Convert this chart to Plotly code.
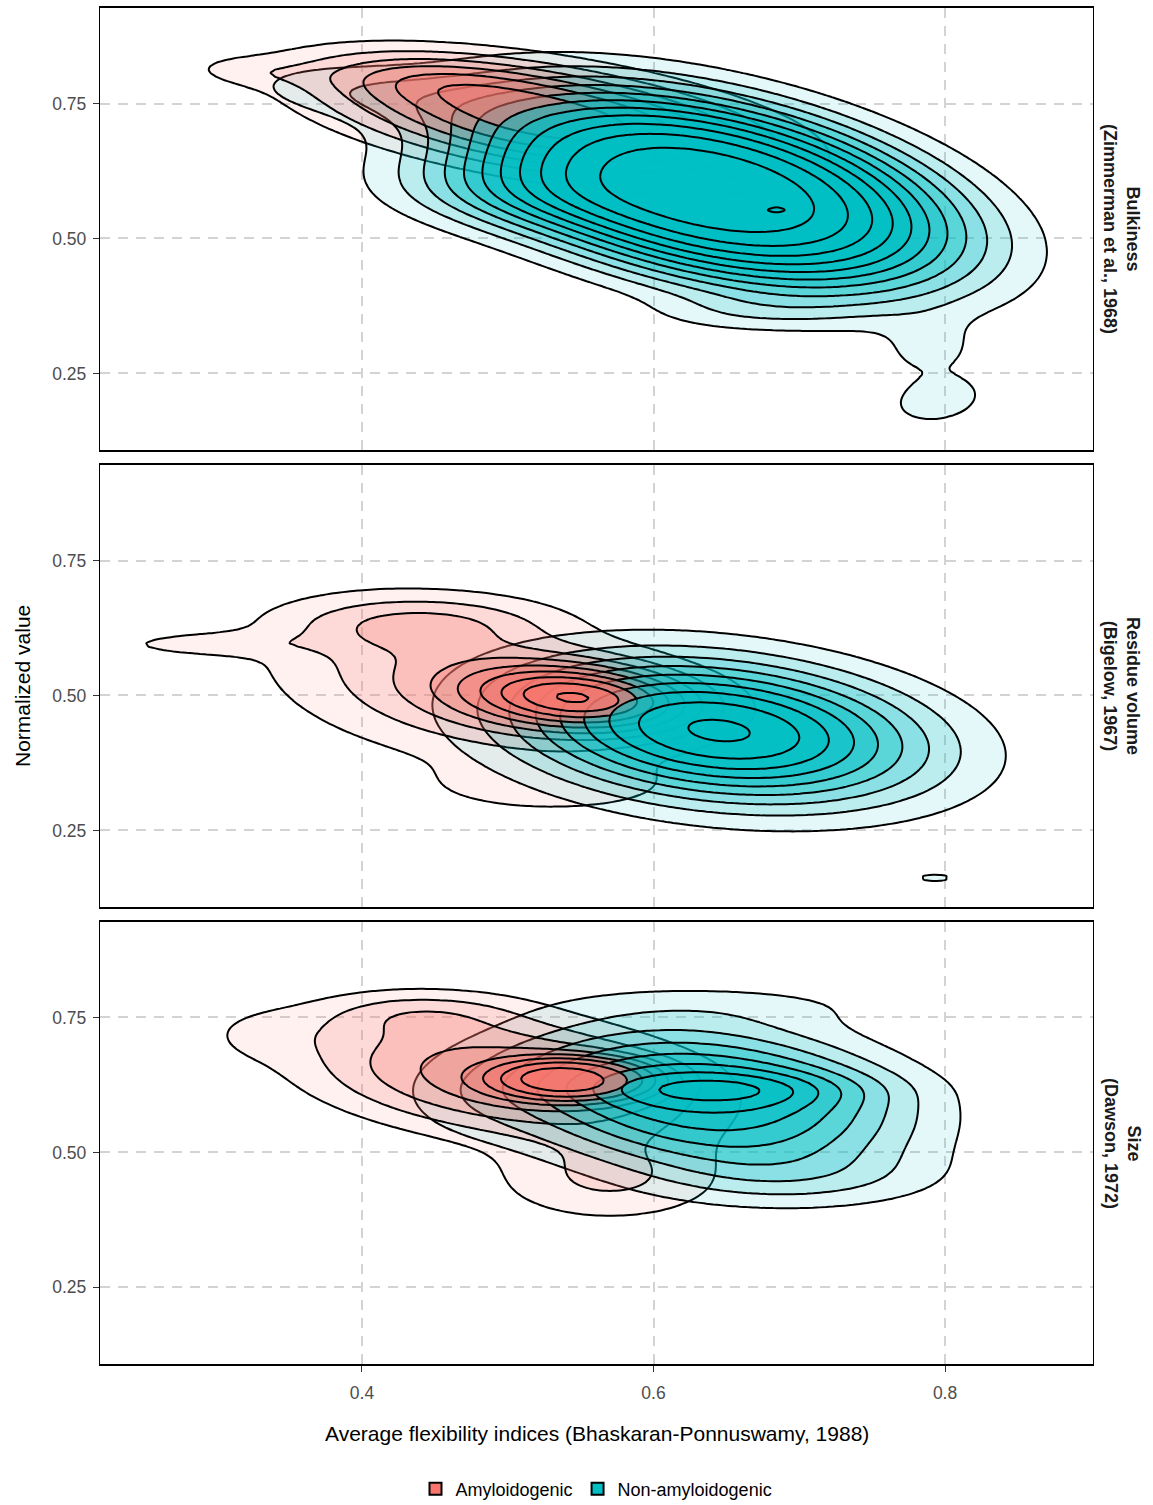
import numpy as np
import plotly.graph_objects as go

# ---------------- data ----------------
PANELS = ["Bulkiness<br>(Zimmerman et al., 1968)",
          "Residue volume<br>(Bigelow, 1967)",
          "Size<br>(Dawson, 1972)"]
GROUPS = ["Amyloidogenic", "Non-amyloidogenic"]
GROUP_COLORS = [(248, 118, 109), (0, 191, 196)]
X_TICKS = [0.4, 0.6, 0.8]
X_TICK_TEXT = ["0.4", "0.6", "0.8"]
Y_TICKS = [0.25, 0.50, 0.75]
Y_TICK_TEXT = ["0.25", "0.50", "0.75"]

# density surface components, heights in units of one contour step:
# (centre x, centre y, spread x, spread y, correlation, height, shape)
BULK_AMY = [(0.530, 0.720, 0.110, 0.080, -0.50, 6.5, 1.2),
            (0.440, 0.800, 0.060, 0.035, -0.30, 1.5, 1.0),
            (0.320, 0.810, 0.030, 0.020, -0.20, 0.9, 1.0)]
BULK_NON = [(0.640, 0.590, 0.135, 0.150, -0.45, 11.8, 1.5),
            (0.400, 0.770, 0.060, 0.040, -0.30, 1.6, 1.0),
            (0.480, 0.580, 0.055, 0.050, -0.30, 1.8, 1.0),
            (0.660, 0.360, 0.050, 0.025, 0.00, 0.9, 1.0),
            (0.795, 0.200, 0.025, 0.035, 0.20, 1.6, 1.5),
            (0.790, 0.290, 0.022, 0.040, 0.00, 1.3, 1.0),
            (0.685, 0.553, 0.005, 0.004, 0.00, 0.9, 1.0)]
VOL_AMY = [(0.553, 0.495, 0.055, 0.045, -0.20, 7.1, 1.0),
           (0.470, 0.520, 0.090, 0.100, -0.30, 3.0, 1.0),
           (0.440, 0.635, 0.060, 0.035, 0.00, 2.0, 1.0),
           (0.290, 0.595, 0.045, 0.015, 0.00, 1.2, 1.0),
           (0.530, 0.330, 0.060, 0.035, 0.00, 1.3, 1.0)]
VOL_NON = [(0.645, 0.435, 0.100, 0.095, -0.25, 9.15, 1.1),
           (0.793, 0.162, 0.012, 0.008, 0.00, 1.3, 1.0)]
SIZE_AMY = [(0.548, 0.636, 0.050, 0.035, 0.00, 4.3, 1.5),
            (0.500, 0.640, 0.100, 0.085, -0.30, 4.6, 1.2),
            (0.440, 0.760, 0.050, 0.030, 0.00, 1.6, 1.0),
            (0.570, 0.450, 0.055, 0.055, 0.00, 2.1, 1.0),
            (0.330, 0.720, 0.030, 0.035, 0.00, 0.8, 1.0)]
SIZE_NON = [(0.635, 0.600, 0.100, 0.100, -0.20, 6.8, 1.2),
            (0.648, 0.618, 0.065, 0.024, 0.00, 1.8, 1.0),
            (0.660, 0.775, 0.090, 0.030, 0.00, 0.8, 1.0),
            (0.700, 0.450, 0.070, 0.040, 0.00, 1.4, 1.0),
            (0.470, 0.600, 0.040, 0.060, 0.00, 0.8, 1.0),
            (0.794, 0.245, 0.004, 0.004, 0.00, 1.05, 1.0)]
PANEL_COMPONENTS = [(BULK_AMY, BULK_NON), (VOL_AMY, VOL_NON), (SIZE_AMY, SIZE_NON)]
LEVELS = [1, 2, 3, 4, 5, 6, 7, 8, 9, 10, 11, 12]

X_RANGE = [0.2203, 0.9015]
Y_RANGE = [0.108, 0.927]

# ---------------- density grids ----------------
gx = np.linspace(X_RANGE[0], X_RANGE[1], 150)
gy = np.linspace(Y_RANGE[0], Y_RANGE[1], 130)
GX, GY = np.meshgrid(gx, gy)


def surface(comps):
    z = np.zeros_like(GX)
    for mx, my, sx, sy, r, h, p in comps:
        dx = (GX - mx) / sx
        dy = (GY - my) / sy
        q = (dx * dx + dy * dy - 2 * r * dx * dy) / (1 - r * r)
        z += h * np.exp(-0.5 * q ** p)
    return z


Z = [[surface(c) for c in pc] for pc in PANEL_COMPONENTS]
n_lev = len(LEVELS)
alphas = [0.1 + 0.9 * k / (n_lev - 1) for k in range(n_lev)]

fig = go.Figure()
FONT = "Liberation Sans, Arial, Helvetica, sans-serif"

for p in range(3):
    ax = "" if p == 0 else str(p + 1)
    for k, lev in enumerate(LEVELS):
        for g in range(2):
            z = Z[p][g]
            if z.max() <= lev:
                continue
            r, gg, b = GROUP_COLORS[g]
            fig.add_trace(go.Contour(
                x=gx, y=gy, z=np.round(z, 3),
                autocontour=False,
                contours=dict(start=lev, end=lev, size=1, coloring="fill", showlines=True),
                colorscale=[[0, f"rgba({r},{gg},{b},0)"], [1, f"rgba({r},{gg},{b},{alphas[k]:.3f})"]],
                line=dict(color="black", width=2, smoothing=1),
                showscale=False, hoverinfo="skip", showlegend=False,
                xaxis="x" + ax, yaxis="y" + ax))

# legend keys
for g in range(2):
    r, gg, b = GROUP_COLORS[g]
    fig.add_trace(go.Scatter(x=[None], y=[None], mode="markers", name=GROUPS[g],
                             marker=dict(symbol="square", size=18, color=f"rgb({r},{gg},{b})",
                                         line=dict(color="black", width=1.8))))

domains = [[0.6740, 1.0], [0.3370, 0.6630], [0.0, 0.3260]]
GRID = dict(showgrid=True, gridcolor="#D3D3D3", gridwidth=1.6, griddash="10px,8px")
layout = dict(
    width=1153, height=1505,
    margin=dict(l=100, r=60, t=8, b=141, autoexpand=False),
    paper_bgcolor="white", plot_bgcolor="white",
    font=dict(family=FONT, size=17, color="#4D4D4D"),
    showlegend=True,
    legend=dict(orientation="h", x=0.5, xanchor="center", y=-125 / 1356, yanchor="middle",
                font=dict(family=FONT, size=18, color="black"), itemsizing="constant",
                traceorder="normal", itemwidth=30),
)
for p in range(3):
    sfx = "" if p == 0 else str(p + 1)
    layout["xaxis" + sfx] = dict(
        domain=[0, 1], range=X_RANGE, anchor="y" + sfx,
        showline=True, linecolor="black", linewidth=2.2, mirror=True,
        tickvals=X_TICKS, ticktext=X_TICK_TEXT,
        ticks="outside" if p == 2 else "", ticklen=6, tickwidth=1.4, tickcolor="#333333",
        showticklabels=(p == 2), tickfont=dict(size=17.5, color="#4D4D4D"),
        ticklabelstandoff=6, zeroline=False, **GRID)
    layout["yaxis" + sfx] = dict(
        domain=domains[p], range=Y_RANGE, anchor="x" + sfx,
        showline=True, linecolor="black", linewidth=1.4, mirror=True,
        tickvals=Y_TICKS, ticktext=Y_TICK_TEXT,
        ticks="outside", ticklen=6, tickwidth=1.4, tickcolor="#333333",
        tickfont=dict(size=17.5, color="#4D4D4D"), ticklabelstandoff=3,
        zeroline=False, **GRID)
fig.update_layout(**layout)

ann = []
for p in range(3):
    d = domains[p]
    ann.append(dict(text="<b>" + PANELS[p].replace("<br>", "</b><br><b>") + "</b>",
                    xref="paper", yref="paper", x=1.0 + 29 / 993, y=(d[0] + d[1]) / 2,
                    xanchor="center", yanchor="middle", showarrow=False, textangle=90,
                    font=dict(family=FONT, size=18, color="#1A1A1A")))
ann.append(dict(text="Normalized value", xref="paper", yref="paper", x=-78 / 993, y=0.5,
                xanchor="center", yanchor="middle", showarrow=False, textangle=-90,
                font=dict(family=FONT, size=21, color="black")))
ann.append(dict(text="Average flexibility indices (Bhaskaran-Ponnuswamy, 1988)",
                xref="paper", yref="paper", x=0.5, y=-70 / 1356,
                xanchor="center", yanchor="middle", showarrow=False,
                font=dict(family=FONT, size=21, color="black")))
fig.update_layout(annotations=ann)

fig.write_html("out.html")
